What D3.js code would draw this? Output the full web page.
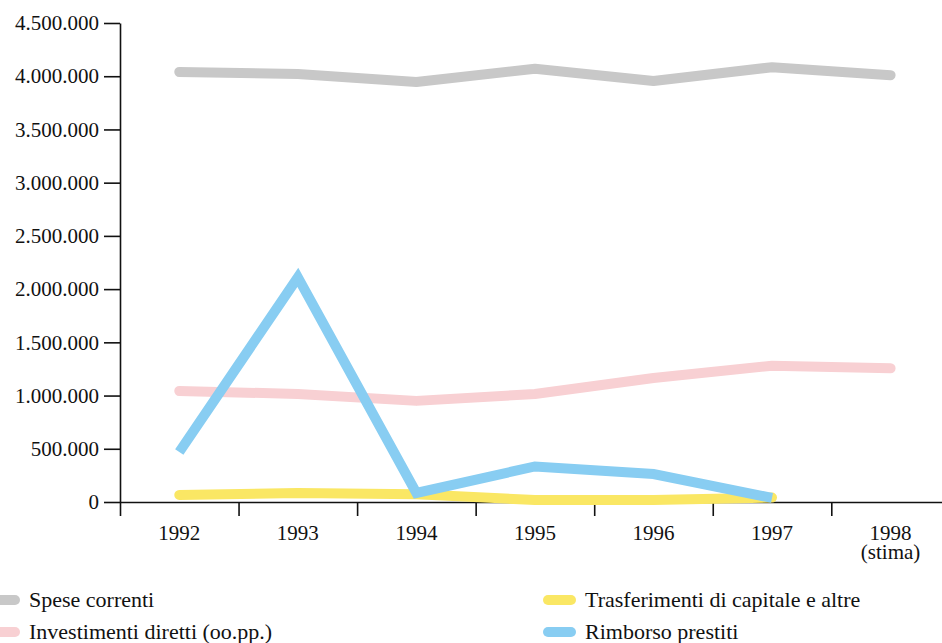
<!DOCTYPE html>
<html>
<head>
<meta charset="utf-8">
<script src="https://cdn.jsdelivr.net/npm/d3@7"></script>
<style>
  html, body { margin: 0; padding: 0; background: #fff; }
  svg { display: block; font-family: "Liberation Serif", "DejaVu Serif", serif; }
</style>
</head>
<body>
<svg id="chart" width="942" height="643"></svg>
<script>
// Categories (years) and the two-line labels shown under the axis
const years = ["1992", "1993", "1994", "1995", "1996", "1997", "1998"];
const yearLabels = [["1992"], ["1993"], ["1994"], ["1995"], ["1996"], ["1997"], ["1998", "(stima)"]];

// Series values
const speseCorrenti   = [4040000, 4020000, 3945000, 4070000, 3955000, 4085000, 4010000];
const investimenti    = [1043000, 1015000, 950000, 1015000, 1165000, 1280000, 1256000];
const trasferimenti   = [66000, 85000, 72000, 19000, 19000, 42000, null];
const rimborso        = [470000, 2110000, 85000, 334000, 263000, 38000, null];

// Y tick values
const yTicks = [0, 500000, 1000000, 1500000, 2000000, 2500000, 3000000, 3500000, 4000000, 4500000];

const series = [
  { name: "Spese correnti", values: speseCorrenti, color: "#c8c8c8", cap: "round", join: "round" },
  { name: "Investimenti diretti (oo.pp.)", values: investimenti, color: "#f8d0d3", cap: "round", join: "round" },
  { name: "Trasferimenti di capitale e altre", values: trasferimenti, color: "#fae764", cap: "round", join: "round" },
  { name: "Rimborso prestiti", values: rimborso, color: "#88cdf2", cap: "butt", join: "miter" }
];

const serif = "'Liberation Serif', 'DejaVu Serif', serif";

const svg = d3.select("#chart");

const left = 120, bandW = 118.55;
const y = d3.scaleLinear().domain([0, 4500000]).range([502, 23]);
// Boundaries between year bands, and the centres where points sit
const xEdge = d3.scaleLinear().domain([0, years.length]).range([left, left + bandW * years.length]);
const x = d3.scalePoint().domain(years).range([xEdge(0.5), xEdge(years.length - 0.5)]);

const itLocale = d3.formatLocale({ decimal: ",", thousands: ".", grouping: [3], currency: ["€", ""] });
const fmt = itLocale.format(",d");

// Y axis
const yAxis = svg.append("g")
  .attr("transform", `translate(${left},0)`)
  .call(d3.axisLeft(y).tickValues(yTicks).tickFormat(fmt).tickSize(16).tickSizeOuter(0).tickPadding(5));
yAxis.attr("font-family", serif);
yAxis.selectAll("text").attr("font-size", 21).attr("fill", "#111");

// X axis: ticks on band edges, labels on band centres
svg.append("g")
  .attr("transform", `translate(0,${y(0)})`)
  .call(d3.axisBottom(xEdge).tickValues(d3.range(0, years.length)).tickFormat("").tickSize(14).tickSizeOuter(0));

svg.selectAll(".domain, .tick line").attr("stroke", "#111").attr("stroke-width", 1.6);

const xl = svg.append("g").attr("font-size", 21).attr("fill", "#111").attr("text-anchor", "middle")
  .attr("font-family", serif);
years.forEach((yr, i) => {
  const t = xl.append("text").attr("x", x(yr)).attr("y", 540);
  yearLabels[i].forEach((line, j) => {
    t.append("tspan").attr("x", x(yr)).attr("dy", j === 0 ? 0 : 19).text(line);
  });
});

// Lines
const line = d3.line()
  .defined(d => d.v !== null)
  .x(d => x(d.year))
  .y(d => y(d.v));

series.forEach(s => {
  svg.append("path")
    .datum(years.map((yr, i) => ({ year: yr, v: s.values[i] })))
    .attr("d", line)
    .attr("fill", "none")
    .attr("stroke", s.color)
    .attr("stroke-width", 10)
    .attr("stroke-linecap", s.cap)
    .attr("stroke-linejoin", s.join)
    .attr("stroke-miterlimit", 10);
});

// Legend
const legendPos = [
  { sx: -8, tx: 29, y: 600 },
  { sx: -8, tx: 29, y: 632 },
  { sx: 548, tx: 585, y: 600 },
  { sx: 548, tx: 585, y: 632 }
];
const legend = svg.append("g").attr("font-family", serif);
series.forEach((s, i) => {
  const p = legendPos[i];
  legend.append("line")
    .attr("x1", p.sx).attr("x2", p.sx + 23)
    .attr("y1", p.y).attr("y2", p.y)
    .attr("stroke", s.color).attr("stroke-width", 10).attr("stroke-linecap", "round");
  legend.append("text")
    .attr("x", p.tx).attr("y", p.y + 7)
    .attr("font-size", 22).attr("fill", "#111")
    .text(s.name);
});
</script>
</body>
</html>
